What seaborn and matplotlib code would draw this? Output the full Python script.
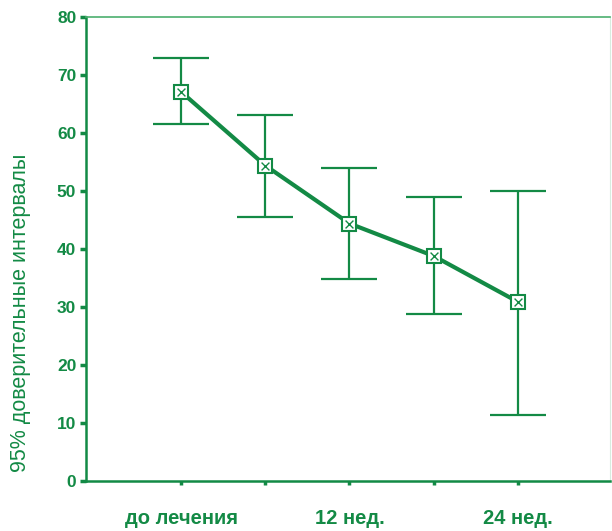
import matplotlib
matplotlib.use("Agg")
import matplotlib.pyplot as plt
import seaborn as sns
import pandas as pd

# values
periods = ["до лечения", "", "12 нед.", "", "24 нед."]
means = [67.1, 54.4, 44.4, 38.8, 30.9]
lower = [61.5, 45.6, 34.9, 28.8, 11.4]
upper = [73.0, 63.1, 54.0, 49.0, 50.0]

green = "#138a45"

sns.set_theme(style="white")
plt.rcParams["font.family"] = ["Liberation Sans", "DejaVu Sans"]

df = pd.DataFrame({"pos": range(len(means)), "mean": means})

fig = plt.figure(figsize=(6.12, 5.31), dpi=100)
ax = fig.add_axes([0.1405, 0.094, 0.857, 0.874])

err_lo = [m - l for m, l in zip(means, lower)]
err_hi = [u - m for m, u in zip(means, upper)]
ax.errorbar(df["pos"], df["mean"], yerr=[err_lo, err_hi], fmt="none",
            ecolor=green, elinewidth=1.6, capsize=20, capthick=1.6, zorder=2)

sns.lineplot(data=df, x="pos", y="mean", ax=ax, color=green, linewidth=3.0,
             marker="s", markersize=9.5, markerfacecolor="white",
             markeredgecolor=green, markeredgewidth=1.5, zorder=3)
sns.scatterplot(data=df, x="pos", y="mean", ax=ax, marker="x", s=32,
                color=green, linewidth=1.0, zorder=4)

ax.set_xlim(-1.13, 5.1)
ax.set_ylim(0, 80)
ax.set_yticks(range(0, 81, 10))
ax.set_xticks(range(len(periods)))
ax.set_xticklabels(periods)

for side in ["left", "bottom"]:
    ax.spines[side].set_color(green)
    ax.spines[side].set_linewidth(1.8)
ax.spines["top"].set_color("#4caf6e")
ax.spines["top"].set_linewidth(1.2)
ax.spines["right"].set_color("#d8ecdf")
ax.spines["right"].set_linewidth(0.8)

ax.tick_params(axis="y", direction="out", length=4, width=2.5, color=green,
               labelcolor=green, labelsize=12.5, pad=3, left=True)
ax.tick_params(axis="x", direction="out", length=3, width=2.5, color=green,
               labelcolor=green, labelsize=14.5, pad=17, bottom=True)
for lab in ax.get_xticklabels() + ax.get_yticklabels():
    lab.set_fontweight("bold")

ax.set_xlabel("")
ax.set_ylabel("95% доверительные интервалы", color=green, fontsize=15.5)
ax.yaxis.set_label_coords(-0.105, 0.362)

fig.savefig("out.png", dpi=100)
